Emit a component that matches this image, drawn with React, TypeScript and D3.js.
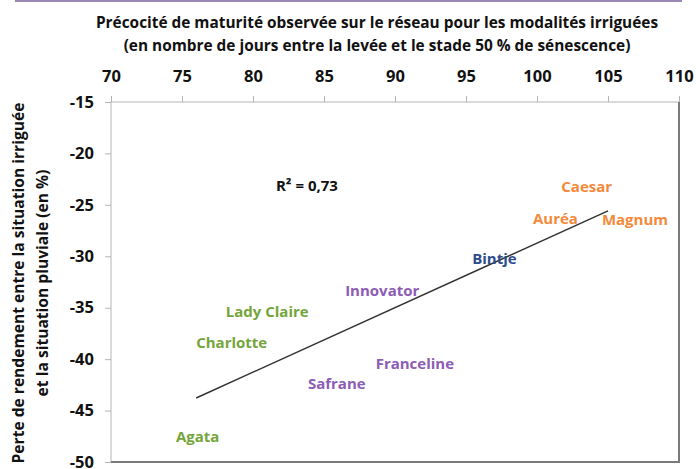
import * as d3 from "d3";
import React from "react";

// varieties and their position (days to 50% senescence, yield loss %)
const varieties = ["Agata", "Charlotte", "Lady Claire", "Safrane", "Innovator", "Franceline", "Bintje", "Auréa", "Caesar", "Magnum"];
const precocity = [76.1, 78.5, 81.0, 85.9, 89.1, 91.4, 97.0, 101.3, 103.5, 106.9];
const yieldLoss = [-47.5, -38.3, -35.3, -42.3, -33.3, -40.4, -30.2, -26.3, -23.2, -26.4];
const groups = ["early", "early", "early", "mid", "mid", "mid", "bintje", "late", "late", "late"];

const xTicks = [70, 75, 80, 85, 90, 95, 100, 105, 110];
const yTicks = [-15, -20, -25, -30, -35, -40, -45, -50];
const trendRange = [76, 105];
const r2Label = "R² = 0,73";
const r2Pos = [83.8, -23.1];

const COLORS: Record<string, string> = {
  early: "#74a53a",
  mid: "#8d5cb4",
  bintje: "#2e4d8c",
  late: "#f5893a",
};

const FONT = "'Open Sans', Lato, sans-serif";

const App: React.FC = () => {
  const ref = React.useRef<SVGSVGElement>(null);

  React.useEffect(() => {
    const svg = d3.select(ref.current);
    svg.selectAll("*").remove();

    const x = d3.scaleLinear().domain([70, 110]).range([111, 679]);
    const y = d3.scaleLinear().domain([-15, -50]).range([102, 462]);

    svg.append("rect").attr("width", 696).attr("height", 469).attr("fill", "#fff");

    // purple rule at top
    svg.append("line")
      .attr("x1", 15).attr("x2", 682).attr("y1", 1).attr("y2", 1)
      .attr("stroke", "#9d88b5").attr("stroke-width", 2);

    // plot frame
    svg.append("rect")
      .attr("x", x(70)).attr("y", y(-15))
      .attr("width", x(110) - x(70)).attr("height", y(-50) - y(-15))
      .attr("fill", "none").attr("stroke", "#b5b5b5").attr("stroke-width", 1);
    svg.append("path")
      .attr("d", `M${x(110)},${y(-15)}V${y(-50)}H${x(70)}`)
      .attr("fill", "none").attr("stroke", "#7a7a7a").attr("stroke-width", 2);

    // axes
    const fmt = (d: d3.NumberValue) => String(d);
    const xAxis = svg.append("g").attr("transform", `translate(0,${y(-15)})`)
      .call(d3.axisTop(x).tickValues(xTicks).tickFormat(fmt).tickSize(6).tickPadding(14));
    const yAxis = svg.append("g").attr("transform", `translate(${x(70)},0)`)
      .call(d3.axisLeft(y).tickValues(yTicks).tickFormat(fmt).tickSize(6).tickPadding(11));
    [xAxis, yAxis].forEach((g) => {
      g.select(".domain").remove();
      g.selectAll("line").attr("stroke", "#b5b5b5");
      g.selectAll("text")
        .attr("font-family", FONT).attr("font-weight", "bold")
        .attr("font-size", 16.5).attr("fill", "#111");
    });

    // titles
    const title = svg.append("text")
      .attr("font-family", FONT).attr("font-weight", "bold").attr("font-size", 15.4)
      .attr("text-anchor", "middle").attr("fill", "#111");
    title.append("tspan").attr("x", 377).attr("y", 28)
      .text("Précocité de maturité observée sur le réseau pour les modalités irriguées");
    title.append("tspan").attr("x", 377).attr("y", 51)
      .text("(en nombre de jours entre la levée et le stade 50 % de sénescence)");

    const yTitle = svg.append("text")
      .attr("transform", "translate(0,283) rotate(-90)")
      .attr("font-family", FONT).attr("font-weight", "bold").attr("font-size", 15.6)
      .attr("text-anchor", "middle").attr("fill", "#111");
    yTitle.append("tspan").attr("x", 0).attr("y", 24)
      .text("Perte de rendement entre la situation irriguée");
    yTitle.append("tspan").attr("x", 0).attr("y", 48)
      .text("et la situation pluviale (en %)");

    // trend line from least squares fit
    const mx = d3.mean(precocity)!;
    const my = d3.mean(yieldLoss)!;
    const sxy = d3.sum(precocity, (v, i) => (v - mx) * (yieldLoss[i] - my));
    const sxx = d3.sum(precocity, (v) => (v - mx) ** 2);
    const slope = sxy / sxx;
    const fit = (v: number) => my + slope * (v - mx);
    svg.append("path")
      .attr("d", d3.line<number>().x((v) => x(v)).y((v) => y(fit(v)))(trendRange))
      .attr("stroke", "#333").attr("stroke-width", 1.5).attr("fill", "none");

    svg.append("text")
      .attr("x", x(r2Pos[0])).attr("y", y(r2Pos[1]))
      .attr("text-anchor", "middle").attr("dominant-baseline", "central")
      .attr("font-family", FONT).attr("font-weight", "bold").attr("font-size", 15)
      .attr("fill", "#111").text(r2Label);

    svg.append("g").selectAll("text").data(varieties).enter()
      .append("text")
      .attr("x", (d, i) => x(precocity[i]))
      .attr("y", (d, i) => y(yieldLoss[i]))
      .attr("text-anchor", "middle").attr("dominant-baseline", "central")
      .attr("font-family", FONT).attr("font-weight", "bold").attr("font-size", 15)
      .attr("fill", (d, i) => COLORS[groups[i]])
      .text((d) => d);
  }, []);

  return (
    <svg ref={ref} width={696} height={469}
      style={{ position: "absolute", left: 0, top: 0 }} />
  );
};

export default App;
